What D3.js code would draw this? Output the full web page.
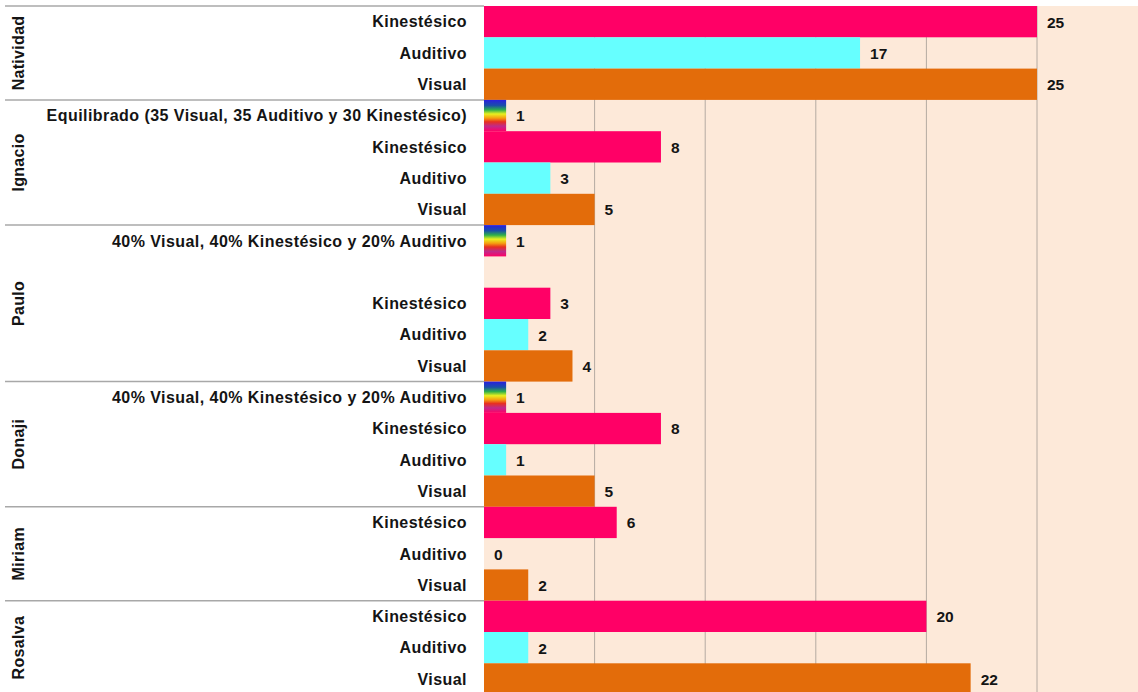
<!DOCTYPE html>
<html>
<head>
<meta charset="utf-8">
<script src="https://cdn.jsdelivr.net/npm/d3@7"></script>
<style>
  html, body { margin: 0; padding: 0; background: #ffffff; }
  svg { display: block; }
  text { font-family: 'Liberation Sans', Arial, sans-serif; font-weight: bold; fill: #141414; }
</style>
</head>
<body>
<div id="chart"></div>
<script>
// People (one group of rows each)
const people = ['Natividad', 'Ignacio', 'Paulo', 'Donaji', 'Miriam', 'Rosalva'];

// Row labels per person ('' = empty row)
const rowLabels = [
  ['Kinestésico', 'Auditivo', 'Visual'],
  ['Equilibrado (35 Visual, 35 Auditivo y 30 Kinestésico)', 'Kinestésico', 'Auditivo', 'Visual'],
  ['40% Visual, 40% Kinestésico y 20% Auditivo', '', 'Kinestésico', 'Auditivo', 'Visual'],
  ['40% Visual, 40% Kinestésico y 20% Auditivo', 'Kinestésico', 'Auditivo', 'Visual'],
  ['Kinestésico', 'Auditivo', 'Visual'],
  ['Kinestésico', 'Auditivo', 'Visual'],
];

// Values per row (null = no bar)
const rowValues = [
  [25, 17, 25],
  [1, 8, 3, 5],
  [1, null, 3, 2, 4],
  [1, 8, 1, 5],
  [6, 0, 2],
  [20, 2, 22],
];

const styleColors = {
  'Kinestésico': '#ff0066',
  'Auditivo': '#66ffff',
  'Visual': '#e36c0a',
};

const totalWidth = 1138;
const totalHeight = 692;
const plotLeft = 484;
const plotTop = 6;
const rowHeight = 31.3;

// flatten rows
const rows = [];
people.forEach((p, gi) => {
  rowLabels[gi].forEach((label, ri) => {
    rows.push({ id: `${gi}-${ri}`, group: p, gi, label, value: rowValues[gi][ri] });
  });
});

const yScale = d3
  .scaleBand()
  .domain(rows.map((d) => d.id))
  .range([plotTop, plotTop + rows.length * rowHeight])
  .padding(0);

const xScale = d3.scaleLinear().domain([0, 25]).range([plotLeft, 1037]);

const svg = d3
  .select('#chart')
  .append('svg')
  .attr('width', totalWidth)
  .attr('height', totalHeight);

// rainbow gradient for mixed styles
const grad = svg
  .append('defs')
  .append('linearGradient')
  .attr('id', 'rainbow')
  .attr('x1', 0).attr('y1', 0).attr('x2', 0).attr('y2', 1);
[
  ['0%', '#2a1ee0'],
  ['18%', '#1a4fa8'],
  ['32%', '#2fb04a'],
  ['45%', '#e8f020'],
  ['58%', '#f5a010'],
  ['70%', '#e83020'],
  ['84%', '#c02a8a'],
  ['100%', '#ff0066'],
].forEach(([o, c]) => grad.append('stop').attr('offset', o).attr('stop-color', c));

// plot background
svg
  .append('rect')
  .attr('x', plotLeft)
  .attr('y', plotTop)
  .attr('width', totalWidth - plotLeft)
  .attr('height', totalHeight - plotTop)
  .attr('fill', '#fde9d9');

// grid lines
svg
  .append('g')
  .selectAll('line')
  .data(xScale.ticks(5).filter((t) => t > 0))
  .join('line')
  .attr('x1', (d) => xScale(d))
  .attr('x2', (d) => xScale(d))
  .attr('y1', plotTop)
  .attr('y2', totalHeight)
  .attr('stroke', '#b4aaa2')
  .attr('stroke-width', 1);

// group separators (left area)
const groupStarts = people.map((p, gi) => rows.find((r) => r.gi === gi).id);
svg
  .append('g')
  .selectAll('line')
  .data(groupStarts)
  .join('line')
  .attr('x1', 5)
  .attr('x2', plotLeft)
  .attr('y1', (d) => yScale(d))
  .attr('y2', (d) => yScale(d))
  .attr('stroke', '#a8a8a8')
  .attr('stroke-width', 1.5);

// bars
const barRows = rows.filter((d) => d.value !== null);
svg
  .append('g')
  .selectAll('rect')
  .data(barRows.filter((d) => d.value > 0))
  .join('rect')
  .attr('x', xScale(0))
  .attr('y', (d) => yScale(d.id))
  .attr('width', (d) => xScale(d.value) - xScale(0))
  .attr('height', yScale.bandwidth())
  .attr('fill', (d) => styleColors[d.label] || 'url(#rainbow)');

// value labels
svg
  .append('g')
  .selectAll('text')
  .data(barRows)
  .join('text')
  .attr('x', (d) => xScale(d.value) + 10)
  .attr('y', (d) => yScale(d.id) + yScale.bandwidth() / 2)
  .attr('dy', '0.38em')
  .style('font-size', '15.5px')
  .text((d) => d.value);

// row labels
svg
  .append('g')
  .selectAll('text')
  .data(rows.filter((d) => d.label))
  .join('text')
  .attr('x', 467)
  .attr('y', (d) => yScale(d.id) + yScale.bandwidth() / 2)
  .attr('dy', '0.36em')
  .attr('text-anchor', 'end')
  .style('font-size', '16px')
  .style('letter-spacing', '0.45px')
  .text((d) => d.label);

// person labels (rotated)
svg
  .append('g')
  .selectAll('text')
  .data(people)
  .join('text')
  .attr('transform', (p, gi) => {
    const g = rows.filter((r) => r.gi === gi);
    const y0 = yScale(g[0].id);
    const y1 = yScale(g[g.length - 1].id) + yScale.bandwidth();
    return `translate(18, ${(y0 + y1) / 2}) rotate(-90)`;
  })
  .attr('dy', '0.35em')
  .attr('text-anchor', 'middle')
  .style('font-size', '16px')
  .style('letter-spacing', '0.3px')
  .text((d) => d);
</script>
</body>
</html>
